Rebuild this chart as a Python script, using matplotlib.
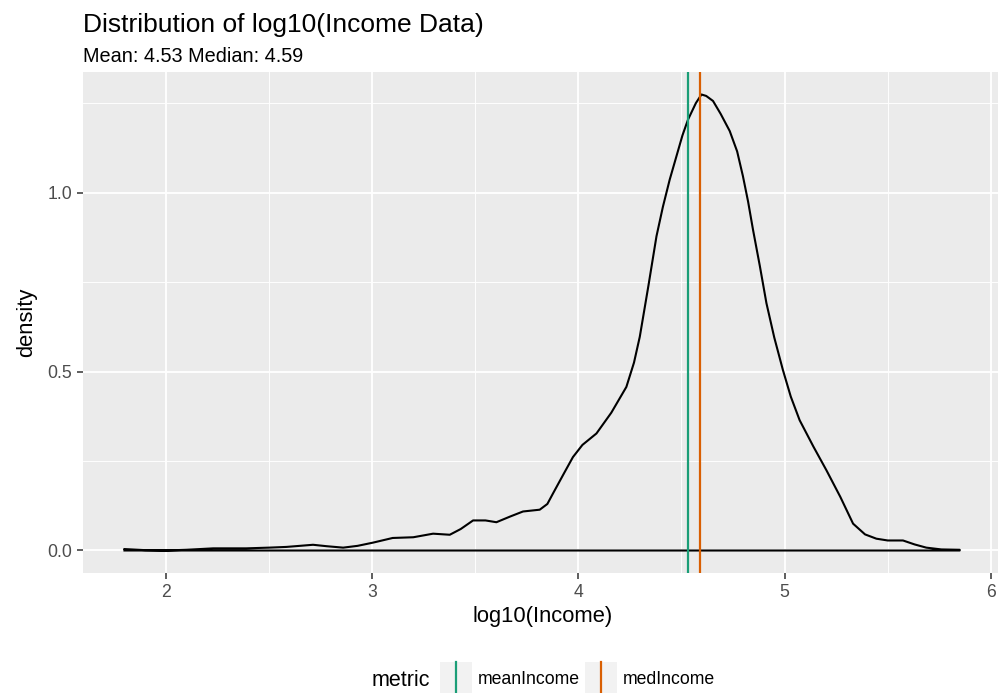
import numpy as np
import matplotlib.pyplot as plt
from matplotlib.patches import Rectangle
from matplotlib.lines import Line2D

plt.rcParams['font.family'] = ['Liberation Sans', 'DejaVu Sans']

# density curve of log10(income)
log_income = [1.80, 1.90, 2.00, 2.10, 2.23, 2.39, 2.50, 2.585, 2.65, 2.714, 2.78, 2.86,
              2.93, 3.005, 3.10, 3.20, 3.296, 3.377, 3.43, 3.49, 3.55, 3.603, 3.67,
              3.732, 3.813, 3.85, 3.877, 3.93, 3.974, 4.02, 4.088, 4.16, 4.233, 4.27,
              4.298, 4.34, 4.379, 4.41, 4.443, 4.475, 4.505, 4.532, 4.57, 4.597, 4.62,
              4.653, 4.69, 4.734, 4.77, 4.798, 4.823, 4.847, 4.88, 4.912, 4.95, 4.992,
              5.03, 5.073, 5.14, 5.203, 5.27, 5.332, 5.39, 5.445, 5.50, 5.574, 5.63,
              5.687, 5.76, 5.849]
density = [0.004, 0.001, 0.000, 0.002, 0.006, 0.006, 0.008, 0.010, 0.013, 0.016, 0.012, 0.008,
           0.013, 0.022, 0.035, 0.037, 0.047, 0.044, 0.060, 0.084, 0.084, 0.079, 0.095,
           0.109, 0.114, 0.130, 0.159, 0.215, 0.261, 0.295, 0.327, 0.385, 0.457, 0.525,
           0.597, 0.740, 0.878, 0.960, 1.036, 1.100, 1.160, 1.204, 1.250, 1.274, 1.270,
           1.256, 1.220, 1.172, 1.115, 1.046, 0.975, 0.896, 0.795, 0.691, 0.595, 0.504,
           0.430, 0.364, 0.290, 0.224, 0.150, 0.075, 0.045, 0.033, 0.028, 0.028, 0.017,
           0.008, 0.003, 0.002]

mean_income = 4.53
med_income = 4.59
metrics = ['meanIncome', 'medIncome']
metric_colors = ['#1B9E77', '#D95F02']

W, H = 998, 693
fig = plt.figure(figsize=(W / 100, H / 100), dpi=100)
# panel runs a bit past the right edge of the picture, as in the original
ax = fig.add_axes([82.7 / W, 1 - 573.3 / H, 919 / W, 501.6 / H])
ax.set_facecolor('#EBEBEB')
for s in ax.spines.values():
    s.set_visible(False)

# density polygon incl. baseline, like geom_density
ax.plot(log_income + [log_income[-1], log_income[0]], density + [0, 0],
        color='black', lw=1.5, solid_joinstyle='round', zorder=3)

for val, col in zip([mean_income, med_income], metric_colors):
    ax.axvline(val, color=col, lw=1.6, zorder=4)

ax.set_xlim(1.5975, 6.0525)
ax.set_ylim(-0.0637, 1.3377)
ax.set_xticks([2, 3, 4, 5, 6])
ax.set_xticks([2.5, 3.5, 4.5, 5.5], minor=True)
ax.set_yticks([0.0, 0.5, 1.0])
ax.set_yticks([0.25, 0.75, 1.25], minor=True)
ax.set_yticklabels(['0.0', '0.5', '1.0'])
ax.grid(which='major', color='white', lw=1.3)
ax.grid(which='minor', color='white', lw=0.65)
ax.set_axisbelow(True)
ax.tick_params(which='major', length=4, width=1.1, color='#333333',
               labelcolor='#4D4D4D', labelsize=12.7, pad=3.5)
ax.tick_params(which='minor', length=0)

ax.set_xlabel('log10(Income)', fontsize=15.8, va='baseline')
ax.xaxis.set_label_coords(0.5, -(622 - 573.3) / 501.6)
ax.set_ylabel('density', fontsize=15.8, va='center')
ax.yaxis.set_label_coords(-(82.7 - 27) / 919, 0.5)

fig.text(82.7 / W, 1 - 31.7 / H, 'Distribution of log10(Income Data)', fontsize=19,
         va='baseline', ha='left')
fig.text(82.7 / W, 1 - 62.3 / H, 'Mean: {:.2f} Median: {:.2f}'.format(mean_income, med_income),
         fontsize=14.3, va='baseline', ha='left')

# legend at the bottom
fig.text(372 / W, 1 - 680 / H, 'metric', fontsize=15.5, va='center', ha='left')
key_x = [440, 585]
text_x = [478, 623]
for kx, tx, lab, col in zip(key_x, text_x, metrics, metric_colors):
    fig.patches.append(Rectangle((kx / W, 0), 32 / W, 31.5 / H, transform=fig.transFigure,
                                 facecolor='#F2F2F2', edgecolor='none'))
    fig.lines.append(Line2D([(kx + 16) / W] * 2, [0, 31.5 / H], transform=fig.transFigure,
                            color=col, lw=1.6))
    fig.text(tx / W, 1 - 680 / H, lab, fontsize=12.7, va='center', ha='left')

fig.savefig('out.png', dpi=100)
